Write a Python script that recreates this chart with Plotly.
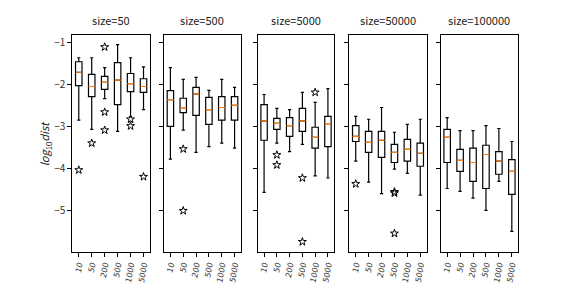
import plotly.graph_objects as go

categories = ["10", "50", "200", "500", "1000", "5000"]
sizes = ["50", "500", "5000", "50000", "100000"]

# per panel (size), per category
whisk_hi = [
    [-1.365, -1.365, -1.60, -1.05, -1.365, -1.58],
    [-1.60, -1.88, -1.83, -2.14, -1.88, -2.07],
    [-2.24, -2.57, -2.60, -2.19, -2.43, -2.10],
    [-2.76, -2.83, -2.55, -3.14, -2.95, -2.83],
    [-2.79, -3.10, -3.10, -2.98, -3.05, -3.36],
]
q3 = [
    [-1.46, -1.76, -1.81, -1.48, -1.74, -1.865],
    [-2.15, -2.33, -2.07, -2.31, -2.29, -2.29],
    [-2.48, -2.81, -2.79, -2.57, -3.02, -2.76],
    [-2.98, -3.12, -3.12, -3.43, -3.31, -3.40],
    [-3.07, -3.55, -3.52, -3.45, -3.60, -3.79],
]
median = [
    [-1.71, -2.05, -1.95, -1.90, -1.98, -2.05],
    [-2.36, -2.57, -2.23, -2.60, -2.55, -2.50],
    [-2.87, -2.93, -2.98, -2.87, -3.26, -2.95],
    [-3.24, -3.38, -3.33, -3.62, -3.55, -3.64],
    [-3.26, -3.81, -3.86, -3.67, -3.83, -4.07],
]
q1 = [
    [-2.03, -2.29, -2.12, -2.48, -2.17, -2.19],
    [-3.00, -2.67, -2.74, -2.95, -2.85, -2.85],
    [-3.33, -3.07, -3.24, -3.12, -3.52, -3.48],
    [-3.36, -3.62, -3.74, -3.86, -3.83, -3.95],
    [-3.86, -4.07, -4.31, -4.48, -4.14, -4.62],
]
whisk_lo = [
    [-2.85, -3.07, -2.34, -3.12, -2.77, -2.60],
    [-3.78, -3.09, -3.62, -3.48, -3.40, -3.52],
    [-4.57, -3.40, -3.60, -3.43, -4.18, -4.23],
    [-3.83, -4.33, -4.60, -4.02, -4.12, -4.64],
    [-4.48, -4.55, -4.71, -5.00, -4.31, -5.50],
]
# outliers: (panel index, category index, value)
outlier_panel = [0, 0, 0, 0, 0, 0, 0, 0, 1, 1, 2, 2, 2, 2, 2, 3, 3, 3, 3]
outlier_cat = [0, 1, 2, 2, 2, 4, 4, 5, 1, 1, 1, 1, 3, 3, 4, 0, 3, 3, 3]
outlier_val = [-4.04, -3.40, -1.11, -2.66, -3.09, -2.83, -2.99, -4.20,
               -3.54, -5.01, -3.68, -3.92, -4.23, -5.75, -2.19,
               -4.37, -4.56, -4.59, -5.55]

domains = [(0.1255, 0.2604), (0.2847, 0.4184), (0.4474, 0.5804),
           (0.6064, 0.7408), (0.7651, 0.8998)]
ydom = [0.126, 0.878]
xpos = list(range(1, len(categories) + 1))

fig = go.Figure()
layout = dict(
    width=576, height=288, margin=dict(l=0, r=0, t=0, b=0),
    paper_bgcolor="white", plot_bgcolor="white", showlegend=False,
    font=dict(family="Noto Sans CJK SC, DejaVu Sans", size=10, color="#222"),
)
annotations = []
for p in range(len(sizes)):
    sfx = "" if p == 0 else str(p + 1)
    xa, ya = "x" + sfx, "y" + sfx
    fig.add_trace(go.Box(
        x=xpos, q1=q1[p], median=median[p], q3=q3[p],
        lowerfence=whisk_lo[p], upperfence=whisk_hi[p],
        width=0.5, whiskerwidth=0.5, fillcolor="white",
        line=dict(color="black", width=1.2), boxpoints=False,
        xaxis=xa, yaxis=ya, hoverinfo="skip",
    ))
    fig.add_trace(go.Box(
        x=xpos, q1=median[p], median=median[p], q3=median[p],
        lowerfence=median[p], upperfence=median[p],
        width=0.5, whiskerwidth=0.5, fillcolor="rgba(0,0,0,0)",
        line=dict(color="#ff7f0e", width=1.2), boxpoints=False,
        xaxis=xa, yaxis=ya, hoverinfo="skip",
    ))
    ox = [xpos[c] for pp, c in zip(outlier_panel, outlier_cat) if pp == p]
    oy = [v for pp, v in zip(outlier_panel, outlier_val) if pp == p]
    fig.add_trace(go.Scatter(
        x=ox, y=oy, mode="markers",
        marker=dict(symbol="star-open", size=6, color="black",
                    line=dict(color="black", width=1)),
        xaxis=xa, yaxis=ya, hoverinfo="skip",
    ))
    layout["xaxis" + sfx] = dict(
        domain=list(domains[p]), anchor=ya, range=[0.5, 6.5],
        tickvals=xpos, ticktext=["<i>%s</i>" % c for c in categories],
        tickangle=-80, ticks="outside", ticklen=4, tickcolor="black",
        showline=True, mirror=True, linecolor="black", linewidth=1,
        showgrid=False, zeroline=False,
        tickfont=dict(size=8, color="#333", family="DejaVu Sans"),
    )
    yd = dict(
        domain=ydom, anchor=xa, range=[-5.986, -0.826],
        tickvals=[-1, -2, -3, -4, -5], ticks="outside", ticklen=4,
        tickcolor="black", showline=True, mirror=True, linecolor="black",
        linewidth=1, showgrid=False, zeroline=False,
        tickfont=dict(size=10, color="#333"),
    )
    if p > 0:
        yd["matches"] = "y"
        yd["showticklabels"] = False
    layout["yaxis" + sfx] = yd
    annotations.append(dict(
        text="size=" + sizes[p], xref="paper", yref="paper",
        x=(domains[p][0] + domains[p][1]) / 2, y=ydom[1] + 0.018,
        xanchor="center", yanchor="bottom", showarrow=False,
        font=dict(size=11, color="#222"),
    ))
annotations.append(dict(
    text="<i>log</i><sub>10</sub><i>dist</i>", xref="paper", yref="paper",
    x=0.077, y=0.5, textangle=-90, showarrow=False,
    xanchor="center", yanchor="middle", font=dict(size=11, color="#222"),
))
layout["annotations"] = annotations
fig.update_layout(**layout)
fig.write_html("out.html", config={"displayModeBar": False},
               post_script="document.body.style.margin='0';document.body.style.overflow='hidden';")
